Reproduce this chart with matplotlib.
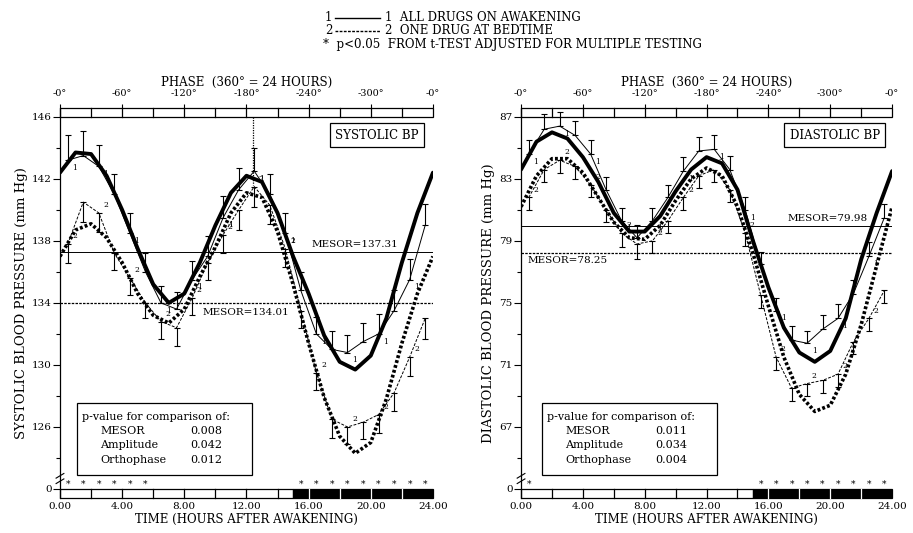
import numpy as np
import matplotlib
matplotlib.use('Agg')
import matplotlib.pyplot as plt
from matplotlib.patches import Rectangle

plt.rcParams['font.family'] = ['DejaVu Serif']

# hours for fitted curves and for hourly means
fit_hours = list(range(25))
data_hours = [h + 0.5 for h in range(24)]

# ---- systolic
sbp_fit1 = [142.4, 143.7, 143.6, 142.2, 140.0, 137.5, 135.2, 134.0, 134.6, 136.6, 139.0, 141.1, 142.2,
            141.8, 139.8, 137.0, 134.6, 131.9, 130.2, 129.7, 130.6, 133.0, 136.6, 139.8, 142.4]
sbp_fit2 = [137.0, 138.7, 139.1, 138.2, 136.6, 134.6, 133.2, 132.7, 133.6, 135.7, 137.6, 139.8, 141.1,
            140.8, 138.6, 135.2, 131.4, 127.9, 125.4, 124.3, 125.0, 127.8, 131.4, 134.6, 137.0]
sbp_mean1 = [143.2, 143.5, 142.8, 141.0, 138.5, 136.0, 134.0, 133.6, 135.5, 137.0, 139.5, 141.3,
             142.5, 141.0, 138.5, 134.8, 132.0, 131.0, 130.8, 131.5, 132.0, 133.5, 135.5, 139.0]
sbp_err1 = [1.6, 1.6, 1.4, 1.3, 1.3, 1.2, 1.1, 1.1, 1.2, 1.3, 1.4, 1.4,
            1.5, 1.3, 1.3, 1.2, 1.1, 1.2, 1.1, 1.2, 1.3, 1.3, 1.3, 1.4]
sbp_mean2 = [137.8, 140.5, 139.8, 137.2, 135.6, 134.0, 132.8, 132.4, 134.3, 136.6, 138.4, 140.0,
             141.5, 140.3, 137.5, 133.5, 129.5, 126.5, 126.0, 126.3, 126.8, 128.2, 130.5, 133.0]
sbp_err2 = [1.2, 1.3, 1.2, 1.1, 1.1, 1.0, 1.1, 1.2, 1.1, 1.1, 1.2, 1.3,
            1.3, 1.2, 1.2, 1.1, 1.1, 1.2, 1.1, 1.1, 1.2, 1.2, 1.2, 1.3]
sbp_mesor = [137.31, 134.01]
sbp_pvals = ['0.008', '0.042', '0.012']
sbp_stars = [0.5, 1.5, 2.5, 3.5, 4.5, 5.5, 15.5, 16.5, 17.5, 18.5, 19.5, 20.5, 21.5, 22.5, 23.5]

# ---- diastolic
dbp_fit1 = [83.6, 85.4, 86.0, 85.6, 84.4, 82.8, 80.8, 79.6, 79.6, 80.6, 82.2, 83.6, 84.4,
            84.0, 82.3, 79.0, 76.0, 73.4, 71.8, 71.2, 71.9, 74.0, 77.8, 80.8, 83.5]
dbp_fit2 = [81.2, 83.2, 84.3, 84.3, 83.4, 81.8, 80.2, 79.2, 79.1, 80.0, 81.6, 83.0, 83.7,
            83.2, 81.2, 78.2, 74.8, 71.5, 69.1, 68.0, 68.4, 70.4, 73.6, 77.4, 81.2]
dbp_mean1 = [84.6, 86.2, 86.4, 85.8, 84.6, 82.3, 80.3, 79.2, 80.3, 81.8, 83.5, 84.8,
             84.9, 83.6, 81.0, 77.5, 74.5, 72.6, 72.4, 73.3, 74.0, 75.6, 78.0, 80.5]
dbp_err1 = [0.9, 1.0, 0.9, 0.9, 0.9, 0.8, 0.8, 0.8, 0.8, 0.8, 0.9, 0.9,
            0.9, 0.9, 0.8, 0.8, 0.8, 0.9, 0.8, 0.9, 0.9, 0.9, 0.9, 0.9]
dbp_mean2 = [81.8, 83.6, 84.2, 83.8, 82.6, 81.0, 79.5, 78.8, 79.0, 80.3, 81.8, 83.2,
             83.6, 82.3, 79.5, 75.5, 71.5, 69.5, 69.8, 70.0, 70.4, 72.5, 74.0, 75.8]
dbp_err2 = [0.8, 0.8, 0.8, 0.8, 0.8, 0.8, 0.9, 1.0, 0.8, 0.8, 0.8, 0.8,
            0.8, 0.8, 0.8, 0.8, 0.8, 0.8, 0.8, 0.8, 0.8, 0.8, 0.8, 0.8]
dbp_mesor = [79.98, 78.25]
dbp_pvals = ['0.011', '0.034', '0.004']
dbp_stars = [0.5, 15.5, 16.5, 17.5, 18.5, 19.5, 20.5, 21.5, 22.5, 23.5]

time_ticks = [0, 4, 8, 12, 16, 20, 24]
time_labels = ['0.00', '4.00', '8.00', '12.00', '16.00', '20.00', '24.00']
phase_labels = ['-0°', '-60°', '-120°', '-180°', '-240°', '-300°', '-0°']
pval_names = ['MESOR', 'Amplitude', 'Orthophase']
sleep_start = 15


def panel(ax, lo, hi, fit1, fit2, m1, e1, m2, e2, mesor, pvals, stars, title, ylabel,
          mesor_pos, box_x, title_x):
    bar = 0.58
    ax.set_xlim(0, 24)
    ax.set_ylim(lo - bar, hi + bar)
    for s in ['top', 'right', 'bottom']:
        ax.spines[s].set_visible(False)
    ax.spines['left'].set_linewidth(0.9)

    # y ticks (0 at the bottom, broken axis)
    yt = list(range(lo, hi + 1, 4))
    ax.set_yticks(yt)
    ax.set_yticklabels(['0'] + [str(v) for v in yt[1:]], fontsize=7.5)
    ax.set_yticks(list(range(lo + 2, hi, 4)), minor=True)
    ax.tick_params(axis='y', which='major', direction='out', length=5, width=0.8, pad=1)
    ax.tick_params(axis='y', which='minor', direction='out', length=3, width=0.8)
    ax.set_ylabel(ylabel, fontsize=9.5, labelpad=3)
    # break mark
    for dy in (0.35, 0.7):
        ax.plot([-0.25, 0.25], [lo + dy, lo + dy + 0.3], color='black', lw=0.8, clip_on=False)

    ax.set_xticks(time_ticks)
    ax.set_xticklabels(time_labels, fontsize=7.5)
    ax.tick_params(axis='x', length=0, pad=3)
    ax.set_xlabel('TIME (HOURS AFTER AWAKENING)', fontsize=8.5, labelpad=1)

    # bottom light/dark bar
    ax.add_patch(Rectangle((0, lo - bar), sleep_start, bar, facecolor='white', edgecolor='black', lw=0.9, clip_on=False))
    ax.add_patch(Rectangle((sleep_start, lo - bar), 24 - sleep_start, bar, facecolor='black', edgecolor='black', lw=0.9, clip_on=False))
    for h in range(2, 24, 2):
        ax.plot([h, h], [lo - bar, lo], color='black' if h < sleep_start else 'white', lw=0.9, clip_on=False)
    # top phase bar
    ax.add_patch(Rectangle((0, hi), 24, bar, facecolor='white', edgecolor='black', lw=0.9, clip_on=False))
    for h in range(2, 24, 2):
        ax.plot([h, h], [hi, hi + bar], color='black', lw=0.9, clip_on=False)

    top = ax.secondary_xaxis('top')
    top.set_xticks(time_ticks)
    top.set_xticklabels(phase_labels, fontsize=7)
    top.tick_params(length=3, width=0.8, pad=4)
    top.spines['top'].set_visible(False)
    top.set_xlabel('PHASE  (360° = 24 HOURS)', fontsize=8.5, labelpad=2)

    # mesor lines
    ax.axhline(mesor[0], color='black', lw=0.7)
    ax.axhline(mesor[1], color='black', lw=0.9, ls=(0, (2, 1)))
    (t1, y1, ha1, va1), (t2, y2, ha2, va2) = mesor_pos
    ax.text(t1, y1, 'MESOR=%.2f' % mesor[0], fontsize=7.5, ha=ha1, va=va1, zorder=1)
    ax.text(t2, y2, 'MESOR=%.2f' % mesor[1], fontsize=7.5, ha=ha2, va=va2, zorder=1)

    # fitted curves
    ax.plot(fit_hours, fit1, color='black', lw=2.8, solid_capstyle='round', zorder=4)
    ax.plot(fit_hours, fit2, color='black', lw=2.6, ls=(0, (0.8, 0.6)), zorder=4)

    # hourly means
    ax.errorbar(data_hours, m1, yerr=[[0] * len(e1), e1], color='black', lw=0.7,
                elinewidth=0.8, capsize=2.5, capthick=0.8, zorder=3)
    ax.errorbar(data_hours, m2, yerr=[e2, [0] * len(e2)], color='black', lw=0.7, ls=(0, (3, 1.5)),
                elinewidth=0.8, capsize=2.5, capthick=0.8, zorder=3)
    for i in range(0, 24, 2):
        ax.text(data_hours[i] + 0.3, m1[i] - 0.5, '1', fontsize=5.5, ha='left', va='center')
        ax.text(data_hours[i] + 0.3, m2[i] + 0.5, '2', fontsize=5.5, ha='left', va='center')

    for s in stars:
        ax.text(s, lo + 0.3, '*', fontsize=6.5, ha='center', va='center')

    # title box
    ax.text(title_x, 0.93, title, transform=ax.transAxes, fontsize=8.5, ha='center', va='center',
            bbox=dict(boxstyle='square,pad=0.45', facecolor='white', edgecolor='black', lw=0.9), zorder=6)

    # p-value box
    bx0, bx1 = box_x
    ax.add_patch(Rectangle((bx0, 0.059), bx1 - bx0, 0.185, transform=ax.transAxes,
                           facecolor='white', edgecolor='black', lw=0.9, zorder=5))
    ax.text(bx0 + 0.014, 0.208, 'p-value for comparison of:', transform=ax.transAxes,
            fontsize=8, va='center', zorder=6)
    for j, (nm, pv) in enumerate(zip(pval_names, pvals)):
        yy = 0.172 - j * 0.037
        ax.text(bx0 + 0.062, yy, nm, transform=ax.transAxes, fontsize=8, va='center', zorder=6)
        ax.text(bx1 - 0.08, yy, pv, transform=ax.transAxes, fontsize=8, va='center', ha='right', zorder=6)


fig = plt.figure(figsize=(9.13, 5.33), dpi=100)
ax1 = fig.add_axes([0.0657, 0.0657, 0.4085, 0.732])
ax2 = fig.add_axes([0.5707, 0.0657, 0.4064, 0.732])

panel(ax1, 122, 146, sbp_fit1, sbp_fit2, sbp_mean1, sbp_err1, sbp_mean2, sbp_err2, sbp_mesor,
      sbp_pvals, sbp_stars, 'SYSTOLIC BP', 'SYSTOLIC BLOOD PRESSURE (mm Hg)',
      [(21.8, 137.45, 'right', 'bottom'), (9.2, 133.4, 'left', 'center')], (0.046, 0.515), 0.85)
ax1.plot([12.4, 12.4], [146, 141.6], color='black', lw=0.9, ls=(0, (1, 1)))

panel(ax2, 63, 87, dbp_fit1, dbp_fit2, dbp_mean1, dbp_err1, dbp_mean2, dbp_err2, dbp_mesor,
      dbp_pvals, dbp_stars, 'DIASTOLIC BP', 'DIASTOLIC BLOOD PRESSURE (mm Hg)',
      [(22.4, 80.15, 'right', 'bottom'), (0.4, 78.0, 'left', 'top')], (0.057, 0.528), 0.845)

# header legend
hx = 0.356
fig.text(hx, 0.967, '1', fontsize=8.5, ha='left', va='center')
fig.lines.append(plt.Line2D([hx + 0.011, hx + 0.060], [0.967, 0.967], transform=fig.transFigure, color='black', lw=1.0))
fig.text(hx + 0.066, 0.967, '1  ALL DRUGS ON AWAKENING', fontsize=8.5, ha='left', va='center')
fig.text(hx, 0.942, '2', fontsize=8.5, ha='left', va='center')
fig.lines.append(plt.Line2D([hx + 0.011, hx + 0.060], [0.942, 0.942], transform=fig.transFigure, color='black', lw=1.0,
                            ls=(0, (2, 1))))
fig.text(hx + 0.066, 0.942, '2  ONE DRUG AT BEDTIME', fontsize=8.5, ha='left', va='center')
fig.text(hx - 0.002, 0.917, '*  p<0.05  FROM t-TEST ADJUSTED FOR MULTIPLE TESTING', fontsize=8.5, ha='left', va='center')

fig.savefig('out.png', dpi=100)
